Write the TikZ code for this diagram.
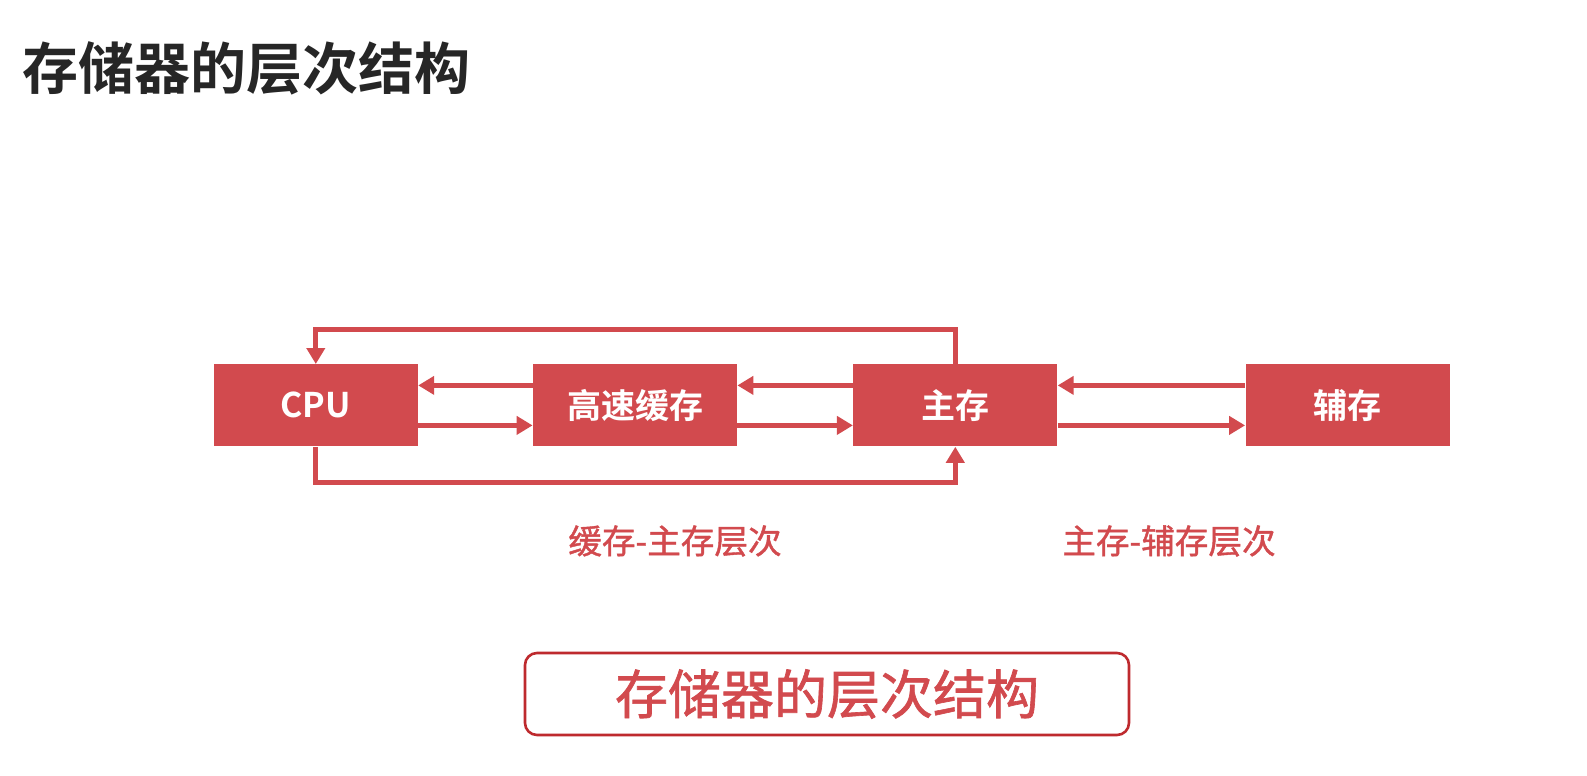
\documentclass[tikz,border=0pt]{standalone}
\usepackage{fontspec}
\setmainfont{Noto Sans CJK SC}
\newfontfamily\cjkb{Noto Sans CJK SC Bold}
\newfontfamily\cjkm[FakeBold=1.2]{Noto Sans CJK SC}
\usetikzlibrary{arrows.meta}
\definecolor{boxred}{HTML}{D24A4E}
\definecolor{darkred}{HTML}{BE2A2E}
\definecolor{titlegray}{HTML}{262626}
\tikzset{
  memboxstyle/.style={fill=boxred, draw=none, minimum width=102pt, minimum height=41pt, inner sep=0pt, text=white, font=\cjkb\fontsize{17pt}{20pt}\selectfont},
  arr/.style={draw=boxred, line width=2.5pt, -{Triangle[length=8pt,width=9pt]}},
  lbl/.style={text=boxred, font=\cjkm\fontsize{16.8pt}{19pt}\selectfont, inner sep=0pt},
}
\begin{document}
\begin{tikzpicture}[x=0.5pt,y=-0.5pt]
\useasboundingbox (0,0) rectangle (1587,776);
\fill[white] (0,0) rectangle (1587,776);
\node[anchor=west, text=titlegray, font=\cjkb\fontsize{28pt}{32pt}\selectfont, inner sep=0pt] (title) at (22,68) {存储器的层次结构};

\node[memboxstyle] (cpu) at (315.8,405.4) {CPU};
\node[memboxstyle] (cache) at (635,405.4) {高速缓存};
\node[memboxstyle] (main) at (955.3,405.4) {主存};
\node[memboxstyle] (aux) at (1347.5,405.4) {辅存};

\coordinate (tl) at (315.8,329);
\coordinate (bl) at (315.8,482);

\draw[arr] ([yshift=10pt]cache.west) -- ([yshift=10pt]cpu.east);
\draw[arr] ([yshift=-10pt]cpu.east) -- ([yshift=-10pt]cache.west);
\draw[arr] ([yshift=10pt]main.west) -- ([yshift=10pt]cache.east);
\draw[arr] ([yshift=-10pt]cache.east) -- ([yshift=-10pt]main.west);
\draw[arr] ([yshift=10pt]aux.west) -- ([yshift=10pt]main.east);
\draw[arr] ([yshift=-10pt]main.east) -- ([yshift=-10pt]aux.west);

\draw[arr] (main.north) -- (main.north |- tl) -- (tl) -- (cpu.north);
\draw[arr] (cpu.south) -- (bl) -- (main.south |- bl) -- (main.south);

\node[lbl] (l1) at (675,541) {缓存-主存层次};
\node[lbl] (l2) at (1169,541) {主存-辅存层次};

\node[draw=darkred, line width=1.3pt, rounded corners=6pt, minimum width=302pt, minimum height=41pt, text=boxred, font=\cjkm\fontsize{26.5pt}{30pt}\selectfont, inner sep=0pt] (sum) at (827,694) {存储器的层次结构};
\end{tikzpicture}
\end{document}
